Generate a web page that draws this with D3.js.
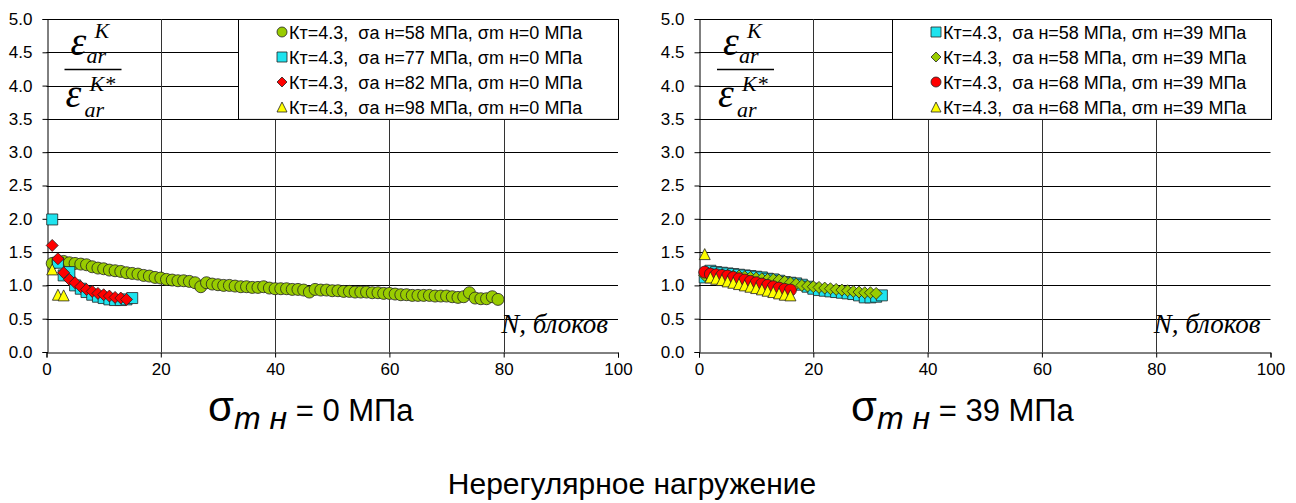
<!DOCTYPE html>
<html>
<head>
<meta charset="utf-8">
<script src="https://d3js.org/d3.v7.min.js"></script>
<style>
body {margin: 0; background: #fff;}
svg text {font-family: "Liberation Sans", Arial, sans-serif;}
.tick text {font-size: 17px; fill: #000;}
svg text.leg {font-size: 18px; white-space: pre;}
svg text.frac {font-family: "Liberation Serif", "Times New Roman", serif; font-style: italic;}
</style>
</head>
<body>
<svg id="chart" width="1296" height="503"></svg>
<script>
// axis ticks
const xTicks = [0, 20, 40, 60, 80, 100];
const yTicks = [0, 0.5, 1, 1.5, 2, 2.5, 3, 3.5, 4, 4.5, 5];

// left panel, σm н = 0 МПа  (x = block number 1..n)
const leftGreen = [1.33, 1.36, 1.36, 1.34, 1.33, 1.32, 1.31, 1.28, 1.26, 1.25, 1.23, 1.22, 1.21, 1.19, 1.18,
  1.17, 1.15, 1.14, 1.12, 1.11, 1.09, 1.08, 1.07, 1.07, 1.06, 1.04, 0.98, 1.04, 1.02, 1.01,
  1.00, 1.00, 0.99, 0.98, 0.98, 0.97, 0.97, 0.98, 0.96, 0.95, 0.95, 0.95, 0.94, 0.94, 0.93,
  0.90, 0.94, 0.93, 0.93, 0.92, 0.92, 0.91, 0.91, 0.90, 0.90, 0.90, 0.89, 0.89, 0.88, 0.88,
  0.87, 0.86, 0.86, 0.85, 0.85, 0.85, 0.85, 0.84, 0.84, 0.84, 0.83, 0.82, 0.83, 0.89, 0.81,
  0.80, 0.80, 0.83, 0.79];
const leftCyan = [1.99, 1.34, 1.15, 1.2, 1.0, 0.95, 0.9, 0.86, 0.83, 0.81, 0.79, 0.78, 0.78, 0.79, 0.81];
const leftRed = [1.6, 1.4, 1.19, 1.09, 1.04, 0.98, 0.94, 0.91, 0.88, 0.86, 0.84, 0.82, 0.81, 0.79];
const leftYellow = [1.24, 0.86, 0.85];

// right panel, σm н = 39 МПа
const rightCyan = [1.12, 1.22, 1.2, 1.19, 1.18, 1.17, 1.16, 1.15, 1.14, 1.13, 1.12, 1.1, 1.09, 1.07, 1.05, 1.04,
  1.03, 1.01, 0.98, 0.95, 0.93, 0.92, 0.91, 0.9, 0.89, 0.88, 0.87, 0.85, 0.82, 0.82, 0.83, 0.85];
const rightGreen = [1.15, 1.17, 1.16, 1.15, 1.15, 1.14, 1.14, 1.13, 1.12, 1.11, 1.1, 1.09, 1.09, 1.08, 1.06, 1.04,
  1.02, 1.0, 0.99, 0.98, 0.97, 0.96, 0.95, 0.94, 0.93, 0.92, 0.91, 0.9, 0.89, 0.89, 0.88];
const rightRed = [1.2, 1.17, 1.16, 1.15, 1.14, 1.12, 1.1, 1.08, 1.06, 1.04, 1.02, 1.0, 0.98, 0.96, 0.94, 0.93];
const rightYellow = [1.47, 1.12, 1.1, 1.08, 1.06, 1.04, 1.02, 1.0, 0.98, 0.96, 0.94, 0.92, 0.9, 0.88, 0.86, 0.85];

const leftLabels = ["Кт=4.3,  σа н=58 МПа, σm н=0 МПа", "Кт=4.3,  σа н=77 МПа, σm н=0 МПа",
  "Кт=4.3,  σа н=82 МПа, σm н=0 МПа", "Кт=4.3,  σа н=98 МПа, σm н=0 МПа"];
const rightLabels = ["Кт=4.3,  σа н=58 МПа, σm н=39 МПа", "Кт=4.3,  σа н=58 МПа, σm н=39 МПа",
  "Кт=4.3,  σа н=68 МПа, σm н=39 МПа", "Кт=4.3,  σа н=68 МПа, σm н=39 МПа"];

const green = "#99cc00", cyan = "#1fe3ee", red = "#ff0000", yellow = "#ffff00";

function markerPath(type, s) {
  const h = s / 2;
  if (type == "circle") return d3.symbol().type(d3.symbolCircle).size(Math.PI * h * h)();
  if (type == "square") return "M" + (-h) + "," + (-h) + "H" + h + "V" + h + "H" + (-h) + "Z";
  if (type == "diamond") return "M0," + (-h) + "L" + h + ",0L0," + h + "L" + (-h) + ",0Z";
  return "M0," + (-h) + "L" + h + "," + h + "L" + (-h) + "," + h + "Z";
}

const svg = d3.select("#chart");

function panel(left, series, labels, legendX, legendW, sub, subX) {
  const x = d3.scaleLinear().domain([0, 100]).range([left, left + 571.5]);
  const y = d3.scaleLinear().domain([0, 5]).range([352, 19]);
  const g = svg.append("g");

  // gridlines
  g.selectAll(".hg").data(yTicks.slice(1)).enter().append("line")
    .attr("x1", x(0)).attr("x2", x(100))
    .attr("y1", d => Math.round(y(d)) + 0.5).attr("y2", d => Math.round(y(d)) + 0.5)
    .attr("stroke", "#000").attr("stroke-width", 1);
  g.selectAll(".vg").data(xTicks.slice(1, 5)).enter().append("line")
    .attr("x1", d => Math.round(x(d)) + 0.5).attr("x2", d => Math.round(x(d)) + 0.5)
    .attr("y1", y(0)).attr("y2", y(5))
    .attr("stroke", "#333").attr("stroke-width", 1);

  // axes
  g.append("g").attr("transform", "translate(" + (Math.round(x(0)) + 0.5) + ",0)")
    .call(d3.axisLeft(y).tickValues(yTicks).tickFormat(d3.format(".1f")).tickSize(5).tickPadding(10))
    .call(a => a.select(".domain").attr("stroke", "#000"));
  g.append("g").attr("transform", "translate(0," + (Math.round(y(0)) + 0.5) + ")")
    .call(d3.axisBottom(x).tickValues(xTicks).tickSize(5).tickPadding(5))
    .call(a => a.select(".domain").attr("stroke", "#000"));

  // points
  series.forEach(s => {
    g.append("g").selectAll("path").data(s.values).enter().append("path")
      .attr("transform", (d, i) => "translate(" + x(i + 1) + "," + y(d) + ")")
      .attr("d", markerPath(s.type, s.size))
      .attr("fill", s.color).attr("stroke", "#222").attr("stroke-width", 0.8);
  });

  // legend (drawn in series order)
  const lg = g.append("g");
  lg.append("rect").attr("x", legendX + 0.5).attr("y", y(5) + 0.5).attr("width", legendW).attr("height", y(3.5) - y(5))
    .attr("fill", "#fff").attr("stroke", "#000");
  series.forEach((s, i) => {
    const cy = y(5) + 13 + i * 25;
    lg.append("path").attr("transform", "translate(" + (legendX + 44) + "," + cy + ")")
      .attr("d", markerPath(s.type, 10)).attr("fill", s.color).attr("stroke", "#222").attr("stroke-width", 0.8);
    lg.append("text").attr("class", "leg").attr("x", legendX + 51).attr("y", cy + 6.5).text(labels[i]);
  });

  // fraction label
  const fx = x(0);
  const frac = (tx, ty, size, str) => g.append("text").attr("class", "frac")
    .attr("x", fx + tx).attr("y", ty).attr("font-size", size).text(str);
  frac(24, 55, 40, "ε");
  frac(48, 38, 22, "K");
  frac(40, 63, 22, "ar");
  g.append("line").attr("x1", fx + 18).attr("x2", fx + 75).attr("y1", 69.5).attr("y2", 69.5)
    .attr("stroke", "#000").attr("stroke-width", 1.5);
  frac(19, 107, 40, "ε");
  frac(43, 91, 22, "K*");
  frac(38, 117, 22, "ar");

  // x axis name
  g.append("text").attr("class", "frac").attr("x", x(100) - 10).attr("y", 333).attr("text-anchor", "end")
    .attr("font-size", 27).text("N, блоков");

  // panel subtitle
  const t = g.append("text").attr("x", subX).attr("y", 421).attr("font-size", 42);
  t.append("tspan").text("σ");
  t.append("tspan").attr("dy", 8).attr("font-size", 32).attr("font-style", "italic").text("m н");
  t.append("tspan").attr("dy", -8).attr("font-size", 31).text(" = " + sub + " МПа");
}

panel(46.5, [
  {values: leftGreen, type: "circle", color: green, size: 12},
  {values: leftCyan, type: "square", color: cyan, size: 11},
  {values: leftRed, type: "diamond", color: red, size: 12},
  {values: leftYellow, type: "triangle", color: yellow, size: 11}
], leftLabels, 238, 380, "0", 208);

panel(699, [
  {values: rightCyan, type: "square", color: cyan, size: 11},
  {values: rightGreen, type: "diamond", color: green, size: 12},
  {values: rightRed, type: "circle", color: red, size: 12},
  {values: rightYellow, type: "triangle", color: yellow, size: 11}
], rightLabels, 892, 379, "39", 851);

svg.append("text").attr("x", 632).attr("y", 494).attr("text-anchor", "middle").attr("font-size", 30)
  .text("Нерегулярное нагружение");
</script>
</body>
</html>
